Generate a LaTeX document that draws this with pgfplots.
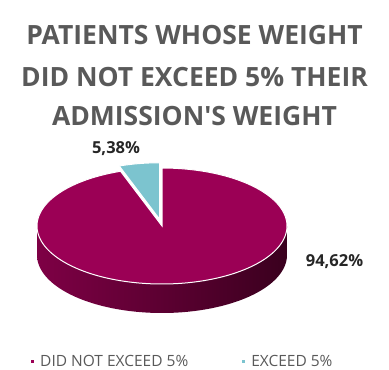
\documentclass[border=0pt]{standalone}
\usepackage{pgfplots}
\pgfplotsset{compat=1.18}
\usepackage{fontspec}
\setmainfont{Open Sans}
\definecolor{magtop}{HTML}{9B0055}
\definecolor{sideL}{HTML}{7E0045}
\definecolor{sideR}{HTML}{3A001E}
\definecolor{cyanslice}{HTML}{7CC4CF}
\definecolor{titlegray}{HTML}{595959}
\definecolor{labelc}{HTML}{262626}
% data (percent)
\def\valA{94.62}% DID NOT EXCEED 5%
\def\valB{5.38}% EXCEED 5%
\pgfmathsetmacro\aend{90+3.6*\valB}
\def\depth{0.5}
\begin{document}
\begin{tikzpicture}
\useasboundingbox (0,0) rectangle (389pt,370pt);
\tikzset{ttl/.style={anchor=base, font=\bfseries\fontsize{26.5}{30}\selectfont, text=titlegray}}
\node[ttl] at (194.5pt,325pt) {PATIENTS WHOSE WEIGHT};
\node[ttl] at (194.5pt,283pt) {DID NOT EXCEED 5\% THEIR};
\node[ttl] at (194.5pt,244pt) {ADMISSION\textquotesingle S WEIGHT};
\begin{axis}[
  at={(-0.5pt,51.2pt)}, anchor=south west,
  scale only axis, width=325pt, height=168.2pt,
  xmin=-1.3, xmax=1.3, ymin=-1.6, ymax=1.3,
  hide axis, clip=false,
  legend columns=2,
  legend style={at={(0.097,-0.255)}, anchor=west, draw=none, fill=none,
    inner xsep=0pt, inner ysep=0pt,
    font=\fontsize{15.5}{17}\selectfont, text=titlegray,
    /tikz/every even column/.append style={column sep=52pt}},
  legend image code/.code={\fill[#1] (0pt,-1.6pt) rectangle (3.2pt,1.6pt); \path (7pt,0pt);},
]
% legend entries
\addlegendimage{fill=magtop, draw=none}
\addlegendentry{DID NOT EXCEED 5\%}
\addlegendimage{fill=cyanslice, draw=none}
\addlegendentry{EXCEED 5\%}
% side of pie (front half of the rim, extruded down)
\addplot[left color=sideL, right color=sideR, draw=none, domain=180:540, samples=361, forget plot]
  ({ifthenelse(x<=360, cos(x), cos(720-x))},{ifthenelse(x<=360, sin(x), sin(720-x)-\depth)}) -- cycle;
% top of big slice
\addplot[fill=magtop, draw=white, line width=1pt, domain=\aend:450, samples=240, forget plot] ({cos(x)},{sin(x)}) -- (axis cs:0,0) -- cycle;
% exploded small slice
\addplot[fill=cyanslice, draw=white, line width=1pt, domain=90:\aend, samples=30, forget plot] ({-0.02+0.97*cos(x)},{0.12+0.97*sin(x)}) -- (axis cs:-0.02,0.12) -- cycle;
% labels
\node[font=\bfseries\fontsize{16.5}{18}\selectfont, text=labelc] at (axis cs:-0.368,1.328) {5,38\%};
\node[font=\bfseries\fontsize{16.5}{18}\selectfont, text=labelc] at (axis cs:1.38,-0.612) {94,62\%};
\end{axis}
\end{tikzpicture}
\end{document}
